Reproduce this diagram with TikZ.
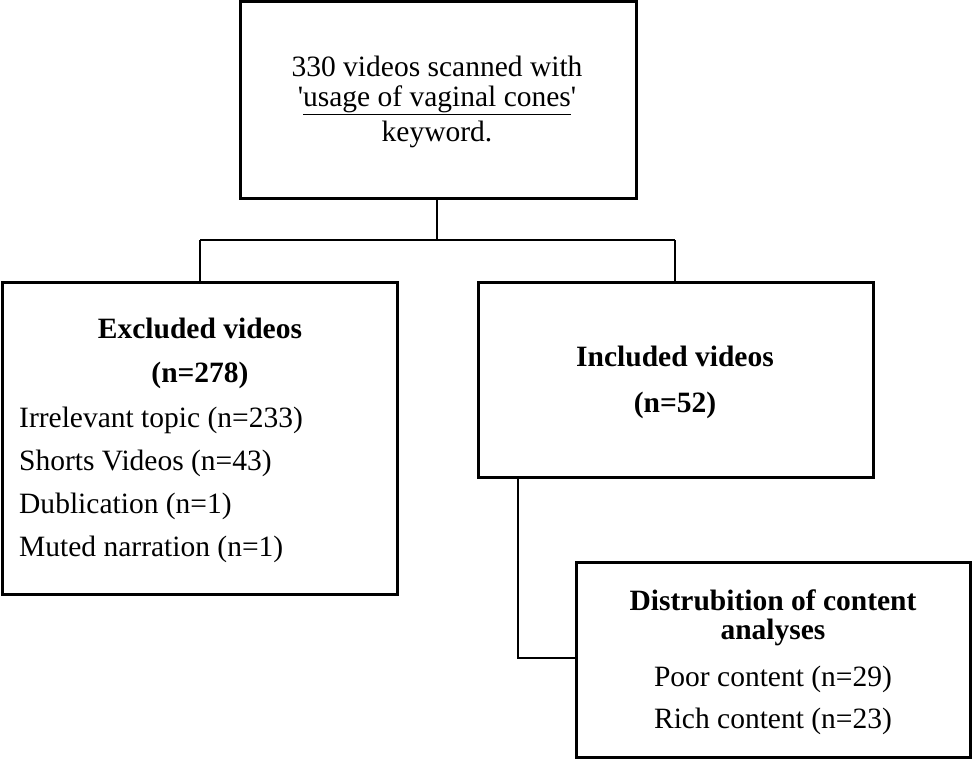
\documentclass[tikz,border=0pt]{standalone}
\usepackage{fontspec}
\setmainfont{Liberation Serif}
\usetikzlibrary{positioning,calc}

\begin{document}
\begin{tikzpicture}[x=1pt, y=-1pt,
    box/.style={draw, line width=3pt},
    link/.style={draw, line width=2pt},
    txt/.style={inner sep=0pt, anchor=center, font=\fontsize{29.5}{34}\selectfont},
    head/.style={txt, font=\fontsize{29.5}{34}\selectfont\bfseries}
]
\useasboundingbox (0,0) rectangle (973,760);

% Boxes
\draw[box] (240,2) rectangle (636,198);
\draw[box] (2,282) rectangle (397,594);
\draw[box] (478,282) rectangle (873,477);
\draw[box] (576,562) rectangle (970,757);

% Anchor points
\coordinate (top) at (437,198);
\coordinate (split) at (437,240);
\coordinate (splitl) at (200,240);
\coordinate (splitr) at (675,240);
\coordinate (excl) at (200,282);
\coordinate (incl) at (675,282);
\coordinate (inclb) at (518,477);
\coordinate (bend) at (518,658);
\coordinate (distr) at (576,658);

% Connectors
\draw[link] (top) -- (split);
\draw[link] (splitl) -- (splitr);
\draw[link] (splitl) -- (excl);
\draw[link] (splitr) -- (incl);
\draw[link] (inclb) -- (bend) -- (distr);

% Top box
\node[txt] (scan1) at (437,66) {330 videos scanned with};
\node[txt] (scan2) at (437,100) {\textquotesingle\underline{usage of vaginal cones}\textquotesingle};
\node[txt] (scan3) at (437,134) {keyword.};

% Excluded
\node[head] (ex1) at (200,328) {Excluded videos};
\node[head] (ex2) at (200,375) {(n=278)};
\node[txt, anchor=west] (ex3) at (19,420) {Irrelevant topic (n=233)};
\node[txt, anchor=west] (ex4) at (19,463) {Shorts Videos (n=43)};
\node[txt, anchor=west] (ex5) at (19,506) {Dublication (n=1)};
\node[txt, anchor=west] (ex6) at (19,549) {Muted narration (n=1)};

% Included
\node[head] (in1) at (675,356) {Included videos};
\node[head] (in2) at (675,405) {(n=52)};

% Distribution
\node[head] (di1) at (773,600) {Distrubition of content};
\node[head] (di2) at (773,632) {analyses};
\node[txt] (di3) at (773,679) {Poor content (n=29)};
\node[txt] (di4) at (773,721) {Rich content (n=23)};
\end{tikzpicture}
\end{document}
